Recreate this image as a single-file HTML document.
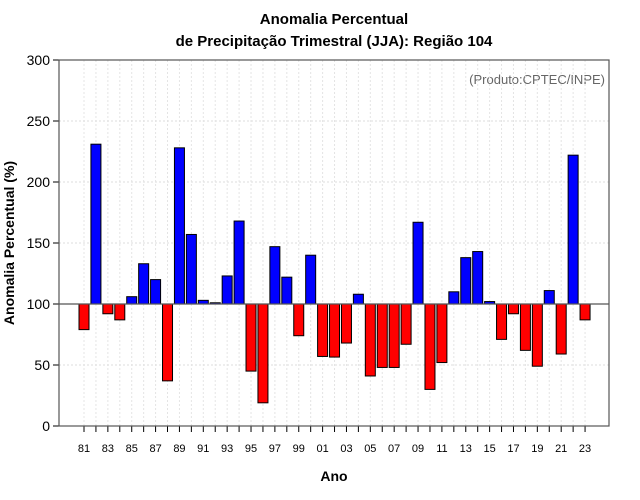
<!DOCTYPE html>
<html><head><meta charset="utf-8"><style>
body{margin:0;background:#fff;}
svg{display:block;font-family:"Liberation Sans",sans-serif;}
</style></head><body>
<svg width="640" height="500" id="c">
<text x="334" y="24" text-anchor="middle" font-size="15" font-weight="bold">Anomalia Percentual</text>
<text x="334" y="46" text-anchor="middle" font-size="15" font-weight="bold">de Precipitação Trimestral (JJA): Região 104</text>
<text x="605" y="84" text-anchor="end" font-size="13" fill="#666">(Produto:CPTEC/INPE)</text>
<text x="334" y="481" text-anchor="middle" font-size="14" font-weight="bold">Ano</text>
<text transform="translate(14,243) rotate(-90)" text-anchor="middle" font-size="14" font-weight="bold">Anomalia Percentual (%)</text>
<g id="grid"></g><g id="bars"></g><g id="axes"></g>
</svg>
<script>
const years=[81,82,83,84,85,86,87,88,89,90,91,92,93,94,95,96,97,98,99,0,1,2,3,4,5,6,7,8,9,10,11,12,13,14,15,16,17,18,19,20,21,22,23];
const values=[79,231,92,87,106,133,120,37,228,157,103,101,123,168,45,19,147,122,74,140,57,56.5,68,108,41,48,48,67,167,30,52,110,138,143,102,71,92,62,49,111,59,222,87];
const yTicks=[0,50,100,150,200,250,300];
const NS='http://www.w3.org/2000/svg';
const L=59,R=609,T=60,B=426;
function y(v){return B-(v/300)*(B-T);}
function x(i){return 84+i*11.93;}
function mk(t,a,p){const e=document.createElementNS(NS,t);for(const k in a)e.setAttribute(k,a[k]);p.appendChild(e);return e;}
const g=document.getElementById('grid'),b=document.getElementById('bars'),ax=document.getElementById('axes');
yTicks.forEach(v=>{
 const gl=mk('line',{x1:L,x2:R,y1:y(v),y2:y(v),stroke:'#ddd','stroke-dasharray':'2,2'},g);
 
 
 mk('line',{x1:L-6,x2:L,y1:y(v),y2:y(v),stroke:'#000'},ax);
 const t=mk('text',{x:L-9,y:y(v)+5,'text-anchor':'end','font-size':'14'},ax);t.textContent=v;
 
 
});
years.forEach((yr,i)=>{
 const gl=mk('line',{x1:x(i),x2:x(i),y1:T,y2:B,stroke:'#e4e4e4','stroke-dasharray':'2,2'},g);
 
 
 mk('line',{x1:x(i),x2:x(i),y1:B,y2:B+6,stroke:'#000'},ax);
 if(i%2===0){const t=mk('text',{x:x(i),y:B+26,'text-anchor':'middle','font-size':'11'},ax);t.textContent=String(yr).padStart(2,'0');
 
 }
 const v=values[i],top=Math.min(y(v),y(100)),h=Math.abs(y(v)-y(100));
 const r=mk('rect',{x:x(i)-5,y:top,width:10,height:h,fill:v>=100?'#0000ff':'#ff0000',stroke:'#000','stroke-width':'1'},b);
 
 
});
const base=mk('line',{x1:L,x2:R,y1:y(100),y2:y(100),stroke:'#555','stroke-width':'1.2'},ax);


const fr=mk('rect',{x:L,y:T,width:R-L,height:B-T,fill:'none',stroke:'#555','stroke-width':'1.2'},ax);


</script>
</body></html>
